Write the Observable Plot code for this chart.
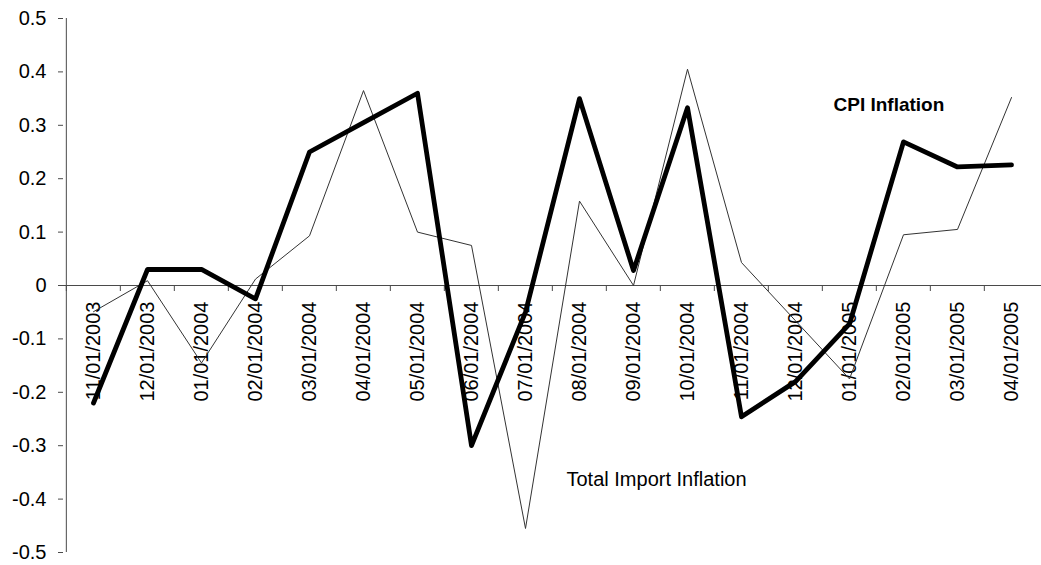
<!DOCTYPE html>
<html><head><meta charset="utf-8">
<script src="https://cdn.jsdelivr.net/npm/d3@7"></script>
<script src="https://cdn.jsdelivr.net/npm/@observablehq/plot@0.6"></script>
<style>html,body{margin:0;padding:0;background:#fff}</style>
</head><body><div id="chart"></div>
<script>
const dates = ["11/01/2003","12/01/2003","01/01/2004","02/01/2004","03/01/2004","04/01/2004","05/01/2004","06/01/2004","07/01/2004","08/01/2004","09/01/2004","10/01/2004","11/01/2004","12/01/2004","01/01/2005","02/01/2005","03/01/2005","04/01/2005"];
const cpiInflation = [-0.22, 0.03, 0.03, -0.025, 0.25, 0.305, 0.36, -0.30, -0.05, 0.35, 0.028, 0.333, -0.246, -0.18, -0.072, 0.269, 0.222, 0.226];
const importInflation = [-0.049, 0.009, -0.145, 0.012, 0.093, 0.365, 0.10, 0.075, -0.455, 0.158, 0.0, 0.405, 0.043, -0.066, -0.175, 0.095, 0.105, 0.352];
const yTicks = [-0.5,-0.4,-0.3,-0.2,-0.1,0,0.1,0.2,0.3,0.4,0.5];
const cpiLabel = [{text: "CPI Inflation", date: "01/01/2005", value: 0.338}];
const importLabel = [{text: "Total Import Inflation", date: "08/01/2004", value: -0.364}];

const W = 1041, H = 565, mL = 63, mR = 0, mT = 18, mB = 13;
const step = (W - mL - mR) / dates.length;
const rows = dates.map((d, i) => ({date: d, cpi: cpiInflation[i], imp: importInflation[i]}));
const axisColor = "#4a4a4a";
const font = "'Liberation Sans', Arial, sans-serif";

const chart = Plot.plot({
  width: W, height: H,
  marginLeft: mL, marginRight: mR, marginTop: mT, marginBottom: mB,
  style: {fontFamily: font, fontSize: "20px", background: "#fff", color: "#000", overflow: "visible"},
  x: {type: "point", domain: dates, padding: 0.5, axis: null},
  y: {domain: [-0.5, 0.5], axis: null},
  marks: [
    Plot.axisY({ticks: yTicks, tickFormat: d => String(Math.round(d * 10) / 10), tickSize: 5, tickPadding: 12, stroke: axisColor, fill: "#000", fontSize: 20}),
    Plot.ruleX([dates[0]], {y1: -0.5, y2: 0.5, dx: -step / 2, stroke: axisColor}),
    Plot.ruleY([0], {stroke: axisColor}),
    Plot.ruleX(dates, {x: d => d, y1: 0, y2: 0, insetBottom: -6, dx: -step / 2, stroke: axisColor}),
    Plot.text(dates, {x: d => d, y: 0, text: d => d, rotate: -90, textAnchor: "end", dy: 16, fontSize: 20, fill: "#000"}),
    Plot.lineY(rows, {x: "date", y: "imp", stroke: "#333", strokeWidth: 1}),
    Plot.lineY(rows, {x: "date", y: "cpi", stroke: "#000", strokeWidth: 4.8}),
    Plot.text(cpiLabel, {x: "date", y: "value", text: "text", textAnchor: "start", dx: -16, fontSize: 19, fill: "#000", fontWeight: "bold"}),
    Plot.text(importLabel, {x: "date", y: "value", text: "text", textAnchor: "start", dx: -13, fontSize: 20, fill: "#000"})
  ]
});
document.getElementById("chart").appendChild(chart);
</script>
</body></html>
